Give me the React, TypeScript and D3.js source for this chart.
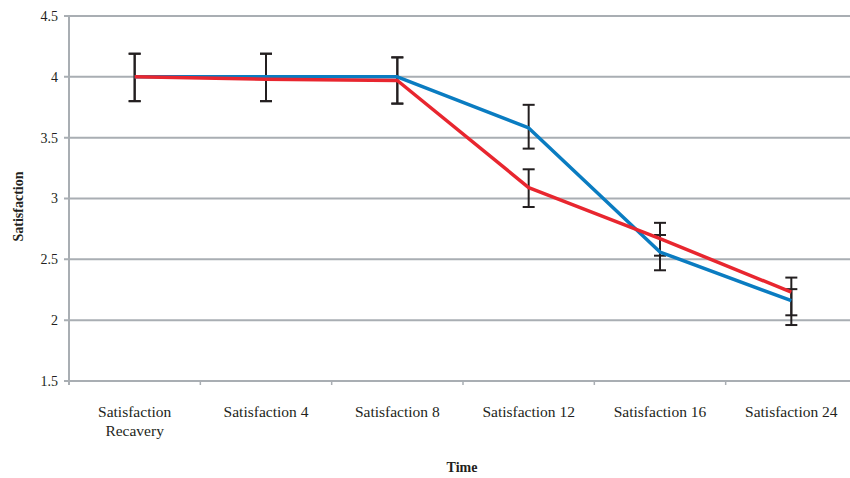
import * as d3 from 'd3';
import { useRef, useEffect } from 'react';

// chart values
const CATEGORIES = [
  'Satisfaction Recavery',
  'Satisfaction 4',
  'Satisfaction 8',
  'Satisfaction 12',
  'Satisfaction 16',
  'Satisfaction 24',
];
const BLUE_VALUES = [4.0, 4.0, 4.0, 3.58, 2.56, 2.16];
const BLUE_UPPER = [4.19, 4.19, 4.16, 3.77, 2.7, 2.255];
const BLUE_LOWER = [3.8, 3.8, 3.78, 3.41, 2.41, 1.96];
const RED_VALUES = [4.0, 3.98, 3.97, 3.09, 2.67, 2.23];
const RED_UPPER = [4.19, 4.19, 4.16, 3.24, 2.8, 2.35];
const RED_LOWER = [3.8, 3.8, 3.78, 2.93, 2.53, 2.04];
const Y_TICKS = [1.5, 2, 2.5, 3, 3.5, 4, 4.5];

const W = 850;
const H = 478;
const MARGIN = { TOP: 16, LEFT: 69, BOTTOM: 97 };
const PLOT_RIGHT = 857;
const GRID = '#a9aeb3';
const FONT = '"Liberation Serif", serif';

const SERIES = [
  { values: BLUE_VALUES, upper: BLUE_UPPER, lower: BLUE_LOWER, color: '#0a7cc1' },
  { values: RED_VALUES, upper: RED_UPPER, lower: RED_LOWER, color: '#e8262f' },
];

const App = () => {
  const svgRef = useRef<SVGSVGElement>(null);

  useEffect(() => {
    const svg = d3.select(svgRef.current);
    svg.selectAll('*').remove();

    const x = d3
      .scaleBand<string>()
      .domain(CATEGORIES)
      .range([MARGIN.LEFT, PLOT_RIGHT]);
    const y = d3
      .scaleLinear()
      .domain([1.5, 4.5])
      .range([H - MARGIN.BOTTOM, MARGIN.TOP]);
    const cx = (i: number) => (x(CATEGORIES[i]) as number) + x.bandwidth() / 2;

    // horizontal grid
    svg
      .append('g')
      .selectAll('line')
      .data(Y_TICKS)
      .join('line')
      .attr('x1', MARGIN.LEFT - 5)
      .attr('x2', W)
      .attr('y1', (d) => y(d))
      .attr('y2', (d) => y(d))
      .attr('stroke', GRID)
      .attr('stroke-width', 2);

    // y axis line
    svg
      .append('line')
      .attr('x1', MARGIN.LEFT)
      .attr('x2', MARGIN.LEFT)
      .attr('y1', y(4.5) - 1)
      .attr('y2', y(1.5) + 4)
      .attr('stroke', GRID)
      .attr('stroke-width', 2);

    // x ticks between categories
    svg
      .append('g')
      .selectAll('line')
      .data(CATEGORIES.slice(1))
      .join('line')
      .attr('x1', (d) => x(d) as number)
      .attr('x2', (d) => x(d) as number)
      .attr('y1', y(1.5))
      .attr('y2', y(1.5) + 4)
      .attr('stroke', GRID)
      .attr('stroke-width', 1.5);

    // y tick labels
    svg
      .append('g')
      .selectAll('text')
      .data(Y_TICKS)
      .join('text')
      .attr('x', MARGIN.LEFT - 11)
      .attr('y', (d) => y(d))
      .attr('dy', '0.35em')
      .attr('text-anchor', 'end')
      .attr('font-family', FONT)
      .attr('font-size', 14)
      .attr('fill', '#231f20')
      .text((d) => String(d));

    // x category labels (wrapped)
    const xl = svg
      .append('g')
      .selectAll('text')
      .data(CATEGORIES)
      .join('text')
      .attr('x', (d, i) => cx(i))
      .attr('y', 417)
      .attr('text-anchor', 'middle')
      .attr('font-family', FONT)
      .attr('font-size', 15.5)
      .attr('fill', '#231f20');
    xl.each(function (d) {
      const words = d.endsWith('Recavery') ? ['Satisfaction', 'Recavery'] : [d];
      d3.select(this)
        .selectAll('tspan')
        .data(words)
        .join('tspan')
        .attr('x', d3.select(this).attr('x'))
        .attr('dy', (w, j) => (j === 0 ? 0 : 19))
        .text((w) => w);
    });

    // axis titles
    svg
      .append('text')
      .attr('transform', `translate(23, ${y(3) + 8}) rotate(-90)`)
      .attr('text-anchor', 'middle')
      .attr('font-family', FONT)
      .attr('font-weight', 'bold')
      .attr('font-size', 14)
      .attr('fill', '#231f20')
      .text('Satisfaction');
    svg
      .append('text')
      .attr('x', 462)
      .attr('y', 472)
      .attr('text-anchor', 'middle')
      .attr('font-family', FONT)
      .attr('font-weight', 'bold')
      .attr('font-size', 14)
      .attr('fill', '#231f20')
      .text('Time');

    // error bars (drawn under the lines)
    const eb = svg.append('g').attr('stroke', '#231f20').attr('stroke-width', 2);
    SERIES.forEach((s) => {
      s.values.forEach((v, i) => {
        const px = cx(i);
        eb.append('line')
          .attr('x1', px).attr('x2', px)
          .attr('y1', y(s.upper[i])).attr('y2', y(s.lower[i]));
        [s.upper[i], s.lower[i]].forEach((e) => {
          eb.append('line')
            .attr('x1', px - 6).attr('x2', px + 6)
            .attr('y1', y(e)).attr('y2', y(e));
        });
      });
    });

    // series lines
    const line = d3
      .line<number>()
      .x((d, i) => cx(i))
      .y((d) => y(d));
    SERIES.forEach((s) => {
      svg
        .append('path')
        .datum(s.values)
        .attr('d', line)
        .attr('fill', 'none')
        .attr('stroke', s.color)
        .attr('stroke-width', 3.5)
        .attr('stroke-linejoin', 'round');
    });
  }, []);

  return (
    <svg
      ref={svgRef}
      width={W}
      height={H}
      style={{ position: 'absolute', left: 0, top: 0, background: '#fff' }}
    />
  );
};

export default App;
